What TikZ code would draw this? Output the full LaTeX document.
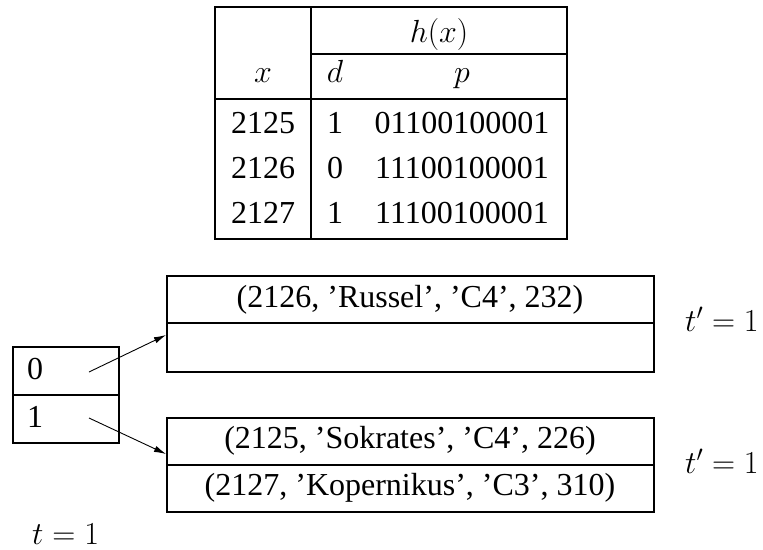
\RequirePackage{fix-cm}
\documentclass[tikz,border=0pt]{standalone}
\usepackage{fontspec}
\setmainfont{Liberation Serif}
\usetikzlibrary{arrows.meta}
\begin{document}
\begin{tikzpicture}[x=1pt,y=-1pt,
  txt/.style={inner sep=0pt,font=\fontsize{32}{38}\selectfont},
  frame/.style={line width=2pt},
  cell/.style={draw,line width=2pt,inner sep=0pt},
  conn/.style={line width=0.9pt,-{Latex[length=12pt,width=6.5pt]}}]
\useasboundingbox (0,0) rectangle (763,549);
% ---- table ----
\draw[frame] (215,7) rectangle (567,239);
\draw[frame] (311,7) -- (311,239);
\draw[frame] (311,54) -- (567,54);
\draw[frame] (215,99) -- (567,99);
\node[txt,anchor=base] (hx) at (439,42) {$h(x)$};
\node[txt,anchor=base] (hxx) at (263,82) {$x$};
\node[txt,anchor=base] (hd) at (335,82) {$d$};
\node[txt,anchor=base] (hp) at (462,82) {$p$};
\node[txt,anchor=base] (x1) at (263,133) {2125};
\node[txt,anchor=base] (d1) at (335,133) {1};
\node[txt,anchor=base] (p1) at (462,133) {01100100001};
\node[txt,anchor=base] (x2) at (263,178) {2126};
\node[txt,anchor=base] (d2) at (335,178) {0};
\node[txt,anchor=base] (p2) at (462,178) {11100100001};
\node[txt,anchor=base] (x3) at (263,223) {2127};
\node[txt,anchor=base] (d3) at (335,223) {1};
\node[txt,anchor=base] (p3) at (462,223) {11100100001};
% ---- directory ----
\node[cell,minimum width=106pt,minimum height=48pt] (b0) at (66,371) {};
\node[cell,minimum width=106pt,minimum height=48pt] (b1) at (66,419) {};
\node[txt,anchor=base west] (l0) at (27,379) {0};
\node[txt,anchor=base west] (l1) at (27,427) {1};
% ---- buckets ----
\node[cell,minimum width=487pt,minimum height=47pt] (r1) at (410,299.5) {};
\node[cell,minimum width=487pt,minimum height=49pt] (r2) at (410,347) {};
\node[cell,minimum width=487pt,minimum height=47pt] (s1) at (410,441.5) {};
\node[cell,minimum width=487pt,minimum height=47pt] (s2) at (410,488.5) {};
\node[txt,anchor=base] (t1) at (410,307) {(2126, 'Russel', 'C4', 232)};
\node[txt,anchor=base] (t2) at (410,448) {(2125, 'Sokrates', 'C4', 226)};
\node[txt,anchor=base] (t3) at (410,495) {(2127, 'Kopernikus', 'C3', 310)};
\node[txt,anchor=base west] (tp1) at (685,331) {$t'=1$};
\node[txt,anchor=base west] (tp2) at (685,473) {$t'=1$};
\node[txt,anchor=base west] (tg) at (32,544) {$t=1$};
% ---- connectors ----
\coordinate (a0) at (89,372);
\coordinate (a1) at (89,418);
\coordinate (e0) at (166,335);
\coordinate (e1) at (166,454);
\draw[conn] (a0) -- (e0);
\draw[conn] (a1) -- (e1);
\end{tikzpicture}
\end{document}
